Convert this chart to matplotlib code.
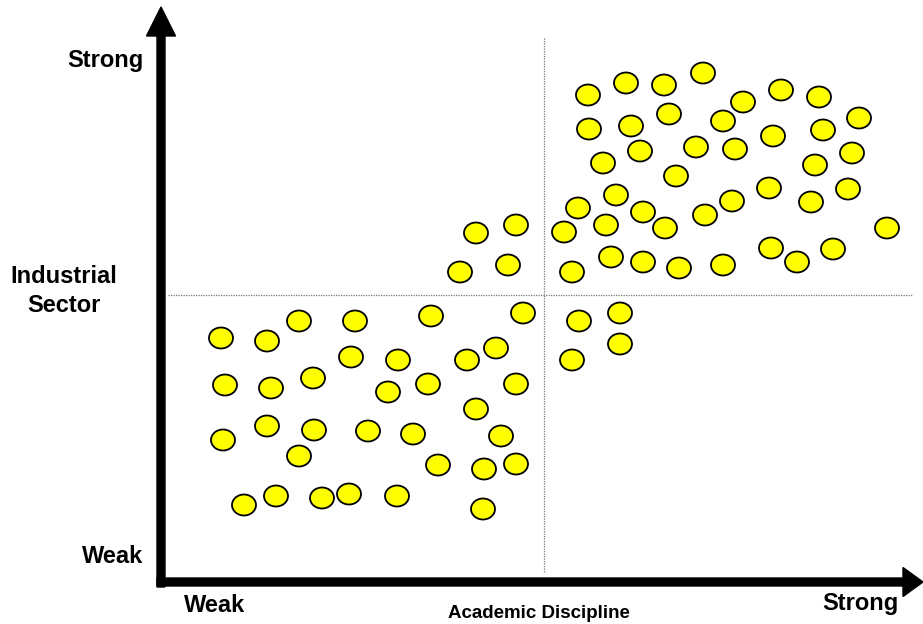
import matplotlib
matplotlib.use("Agg")
import matplotlib.pyplot as plt
from matplotlib.patches import Ellipse, FancyArrow

# positions of the firms on the grid (picture units, y grows downward)
upper_x = [588, 626, 664, 703, 743, 781, 819, 589, 631, 669, 723, 773, 823, 859,
           603, 640, 696, 735, 815, 852, 676, 616, 578, 643, 705, 732, 769, 811,
           848, 606, 665, 564, 887, 611, 643, 679, 723, 771, 797, 833, 572]
upper_y = [95, 83, 85, 73, 102, 90, 97, 129, 126, 114, 121, 136, 130, 118,
           163, 151, 147, 149, 165, 153, 176, 195, 208, 212, 215, 201, 188, 202,
           189, 225, 228, 232, 228, 257, 262, 268, 265, 248, 262, 249, 272]

mid_x = [476, 516, 460, 508, 523, 579, 620, 572, 620]
mid_y = [233, 225, 272, 265, 313, 321, 313, 360, 344]

lower_x = [221, 267, 299, 355, 431, 351, 398, 467, 496, 225, 271, 313, 388, 428,
           516, 476, 223, 267, 314, 368, 413, 501, 299, 438, 484, 516, 244, 276,
           322, 349, 397, 483]
lower_y = [338, 341, 321, 321, 316, 357, 360, 360, 348, 385, 388, 378, 392, 384,
           384, 409, 440, 426, 430, 431, 434, 436, 456, 465, 469, 464, 505, 496,
           498, 494, 496, 509]

xs = upper_x + mid_x + lower_x
ys = upper_y + mid_y + lower_y

fig = plt.figure(figsize=(9.23, 6.24), dpi=100)
ax = fig.add_axes([0, 0, 1, 1])
ax.set_xlim(0, 923)
ax.set_ylim(624, 0)
ax.axis("off")

# dotted quadrant lines
ax.plot([544, 544], [38, 573], color="#777777", lw=0.9, ls=(0, (1, 1)))
ax.plot([168, 912], [295, 295], color="#777777", lw=0.9, ls=(0, (1, 1)))

for x, y in zip(xs, ys):
    ax.add_patch(Ellipse((x, y), 24, 21, facecolor="#ffff00",
                         edgecolor="black", lw=1.3, zorder=3))

# axes arrows
ax.add_patch(FancyArrow(161, 587, 0, -580, width=8, head_width=29,
                        head_length=29, length_includes_head=True,
                        color="black", zorder=4))
ax.add_patch(FancyArrow(157, 582, 766, 0, width=8, head_width=29,
                        head_length=20, length_includes_head=True,
                        color="black", zorder=4))

big = dict(fontsize=17, fontweight="bold", family="Liberation Sans",
           ha="center", va="baseline")
ax.text(105, 67, "Strong", **big)
ax.text(64, 283, "Industrial", **big)
ax.text(64, 312, "Sector", **big)
ax.text(113, 563, "Weak", **big)
ax.text(215, 612, "Weak", **big)
ax.text(860, 610, "Strong", **big)
ax.text(539, 618, "Academic Discipline", fontsize=13.5, fontweight="bold",
        family="Liberation Sans", ha="center", va="baseline")

fig.savefig("out.png", dpi=100)
